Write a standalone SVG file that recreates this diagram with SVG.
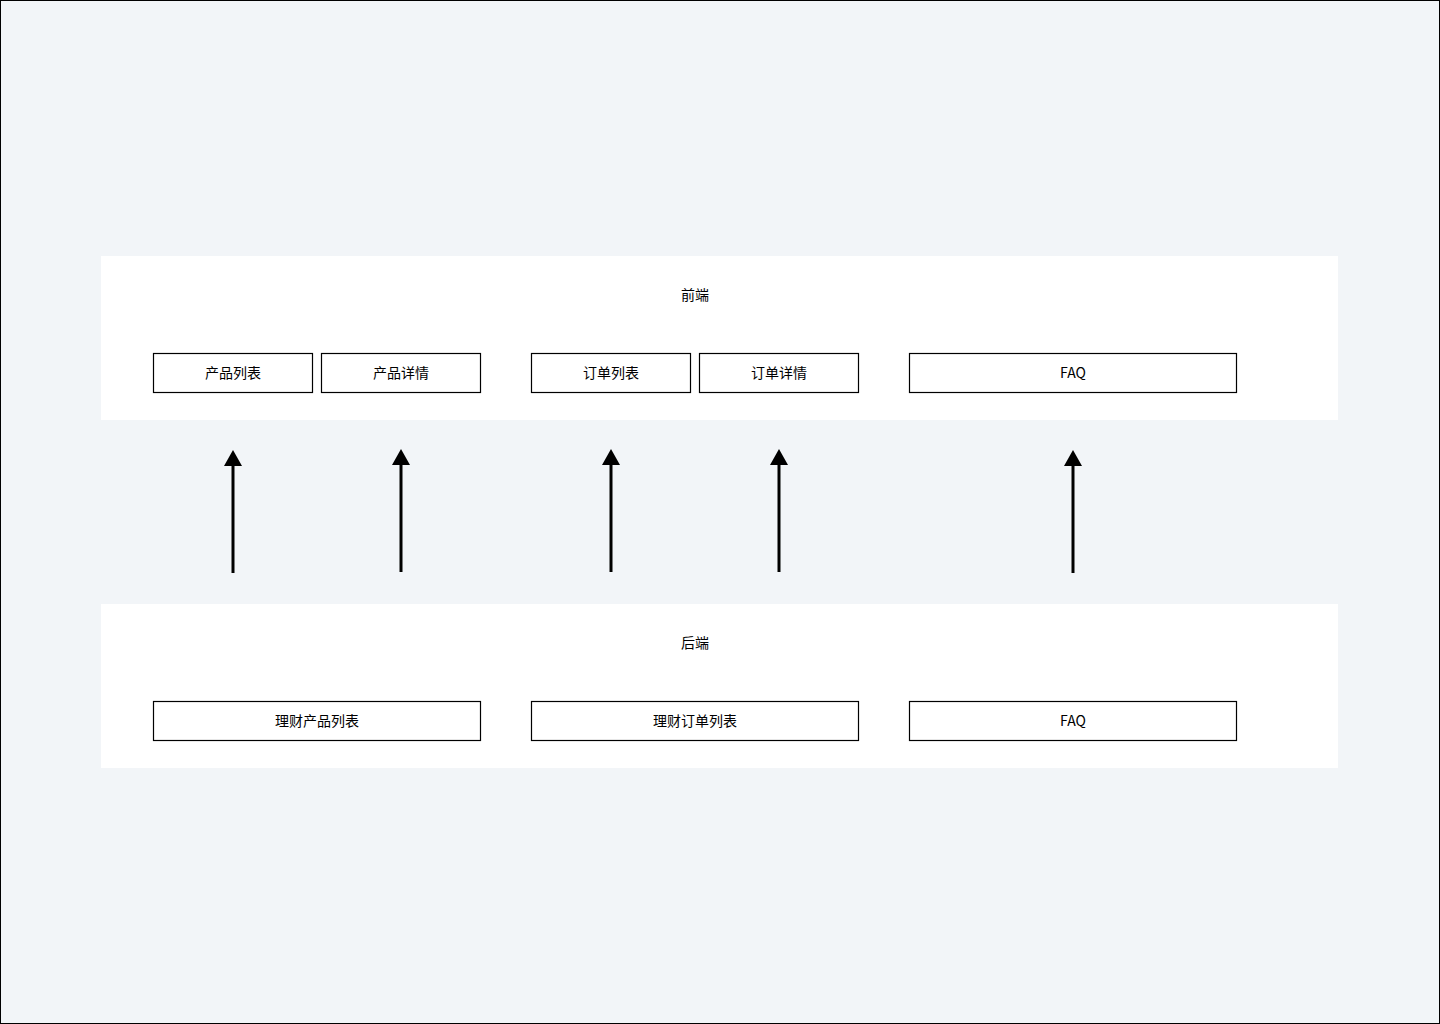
<svg xmlns="http://www.w3.org/2000/svg" width="1440" height="1024" viewBox="0 0 1440 1024">
<style>
.bg{fill:#f2f5f8;stroke:#000;stroke-width:2}
.panel{fill:#fff}
.box{fill:#fff;stroke:#000;stroke-width:1.2}
text{font-family:"Noto Sans CJK SC","Noto Sans",sans-serif;font-size:14px;fill:#000;text-anchor:middle;dominant-baseline:central}
.arr{stroke:#000;stroke-width:3;fill:none;marker-end:url(#ah)}
</style>
<defs>
<marker id="ah" markerUnits="userSpaceOnUse" markerWidth="16" markerHeight="18" refX="3" refY="9" orient="auto" viewBox="0 0 16 18">
<path d="M0,0 L16,9 L0,18 Z" fill="#000"/>
</marker>
</defs>
<rect class="bg" x="0" y="0" width="1440" height="1024"/>
<g id="frontend">
<rect class="panel" x="101" y="256" width="1237" height="164"/>
<text x="695" y="294">前端</text>
</g>
<g id="fe-product-list"><rect class="box" x="153.5" y="353.5" width="159" height="39"/><text x="233" y="372">产品列表</text></g>
<g id="fe-product-detail"><rect class="box" x="321.5" y="353.5" width="159" height="39"/><text x="401" y="372">产品详情</text></g>
<g id="fe-order-list"><rect class="box" x="531.5" y="353.5" width="159" height="39"/><text x="611" y="372">订单列表</text></g>
<g id="fe-order-detail"><rect class="box" x="699.5" y="353.5" width="159" height="39"/><text x="779" y="372">订单详情</text></g>
<g id="fe-faq"><rect class="box" x="909.5" y="353.5" width="327" height="39"/><text x="1073" y="372">FAQ</text></g>
<g id="backend">
<rect class="panel" x="101" y="604" width="1237" height="164"/>
<text x="695" y="642">后端</text>
</g>
<g id="be-product-list"><rect class="box" x="153.5" y="701.5" width="327" height="39"/><text x="317" y="720">理财产品列表</text></g>
<g id="be-order-list"><rect class="box" x="531.5" y="701.5" width="327" height="39"/><text x="695" y="720">理财订单列表</text></g>
<g id="be-faq"><rect class="box" x="909.5" y="701.5" width="327" height="39"/><text x="1073" y="720">FAQ</text></g>
<g id="connectors">
<line class="arr" x1="233" y1="573" x2="233" y2="463"/>
<line class="arr" x1="401" y1="572" x2="401" y2="462"/>
<line class="arr" x1="611" y1="572" x2="611" y2="462"/>
<line class="arr" x1="779" y1="572" x2="779" y2="462"/>
<line class="arr" x1="1073" y1="573" x2="1073" y2="463"/>
</g>
</svg>
